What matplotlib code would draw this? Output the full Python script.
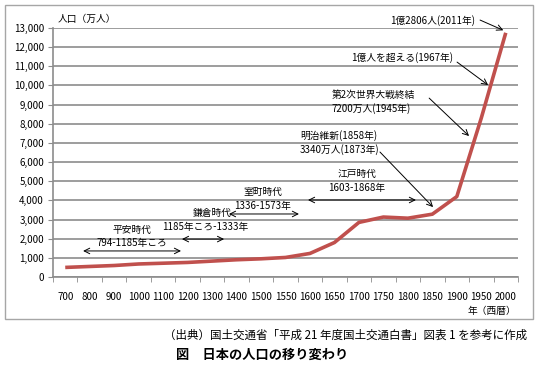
import matplotlib
matplotlib.use('Agg')
import matplotlib.pyplot as plt
from matplotlib.patches import Rectangle
from matplotlib.ticker import FuncFormatter
import numpy as np

plt.rcParams.update({'font.family': ['Noto Sans CJK JP', 'DejaVu Sans'],
                     'axes.unicode_minus': False})

# 年(西暦) — カテゴリ軸
years = ['700', '800', '900', '1000', '1100', '1200', '1300', '1400', '1500',
         '1550', '1600', '1650', '1700', '1750', '1800', '1850', '1900',
         '1950', '2000']
# 人口(万人) — 図から読み取り
population = [500, 550, 600, 680, 720, 760, 830, 900, 950,
              1020, 1230, 1800, 2850, 3130, 3070, 3280, 4200,
              8300, 12750]
yticks = list(range(0, 13001, 1000))

GRID = '#8c8c8c'
RED = '#c0504d'

fig = plt.figure(figsize=(5.4, 3.7), dpi=100)
fig.patches.append(Rectangle((5/540, 1-319/370), 528/540, 314/370,
                             transform=fig.transFigure, fill=False,
                             edgecolor='#a6a6a6', lw=1.0))
ax = fig.add_axes([53/540, 1-277/370, 465/540, 249/370])

x = np.arange(len(years))
ax.plot(x, population, color=RED, lw=2.6, solid_capstyle='butt', zorder=3)

ax.set_xlim(-0.5, len(years) - 0.5)
ax.set_ylim(0, 13000)
ax.set_yticks(yticks)
ax.yaxis.set_major_formatter(FuncFormatter(lambda v, p: f'{int(v):,}'))
ax.set_xticks(x)
ax.set_xticklabels(years)
ax.set_xticks(np.arange(-0.5, len(years)), minor=True)
ax.tick_params(axis='x', which='major', length=0, pad=11, labelsize=7)
ax.tick_params(axis='x', which='minor', length=3.5, color=GRID, direction='out')
ax.tick_params(axis='y', length=3.5, color=GRID, pad=3, labelsize=7)
ax.grid(axis='y', color=GRID, lw=1.2, zorder=0)
for s in ['top', 'right']:
    ax.spines[s].set_visible(False)
for s in ['left', 'bottom']:
    ax.spines[s].set_color(GRID)
    ax.spines[s].set_linewidth(1.2)

fs = 7
ax.text(-0.3, 13470, '人口（万人）', fontsize=fs, ha='left', va='center', clip_on=False)

arw = dict(arrowstyle='->', lw=0.7, color='k', shrinkA=0, shrinkB=0)
dbl = dict(arrowstyle='<->', lw=0.7, color='k', shrinkA=0, shrinkB=0)

# 点への矢印注記
ax.text(16.75, 13415, '1億2806人(2011年)', fontsize=fs, ha='right', va='center')
ax.annotate('', xy=(17.9, 12880), xytext=(16.95, 13415), arrowprops=arw,
            annotation_clip=False)
ax.text(15.85, 11480, '1億人を超える(1967年)', fontsize=fs, ha='right', va='center')
ax.annotate('', xy=(17.28, 10020), xytext=(16.01, 11220), arrowprops=arw)
ax.text(10.9, 9500, '第2次世界大戦終結', fontsize=fs, ha='left', va='center')
ax.text(10.9, 8770, '7200万人(1945年)', fontsize=fs, ha='left', va='center')
ax.annotate('', xy=(16.5, 7360), xytext=(14.87, 9340), arrowprops=arw)
ax.text(9.59, 7410, '明治維新(1858年)', fontsize=fs, ha='left', va='center')
ax.text(9.59, 6630, '3340万人(1873年)', fontsize=fs, ha='left', va='center')
ax.annotate('', xy=(15.03, 3650), xytext=(12.86, 6525), arrowprops=arw)

# 時代区分
ax.text(11.92, 5380, '江戸時代', fontsize=fs, ha='center', va='center')
ax.text(11.92, 4650, '1603-1868年', fontsize=fs, ha='center', va='center')
ax.annotate('', xy=(14.33, 4020), xytext=(9.92, 4020), arrowprops=dbl)
ax.text(8.08, 4440, '室町時代', fontsize=fs, ha='center', va='center')
ax.text(8.08, 3710, '1336-1573年', fontsize=fs, ha='center', va='center')
ax.annotate('', xy=(9.55, 3290), xytext=(6.69, 3290), arrowprops=dbl)
ax.text(6.0, 3340, '鎌倉時代', fontsize=fs, ha='center', va='center')
ax.text(5.71, 2610, '1185年ころ-1333年', fontsize=fs, ha='center', va='center')
ax.annotate('', xy=(6.49, 1980), xytext=(4.77, 1980), arrowprops=dbl)
ax.text(2.73, 2450, '平安時代', fontsize=fs, ha='center', va='center')
ax.text(2.73, 1775, '794-1185年ころ', fontsize=fs, ha='center', va='center')
ax.annotate('', xy=(4.73, 1360), xytext=(0.73, 1360), arrowprops=dbl)

fig.text(516/540, 1-311/370, '年（西暦）', fontsize=fs, ha='right', va='center')
fig.text(527/540, 1-335/370,
         '（出典）国土交通省「平成 21 年度国土交通白書」図表 1 を参考に作成',
         fontsize=8.3, ha='right', va='center')
fig.text(262/540, 1-355/370, '図　日本の人口の移り変わり', fontsize=9.5,
         fontweight='bold', ha='center', va='center')

fig.savefig('out.png', dpi=100)
